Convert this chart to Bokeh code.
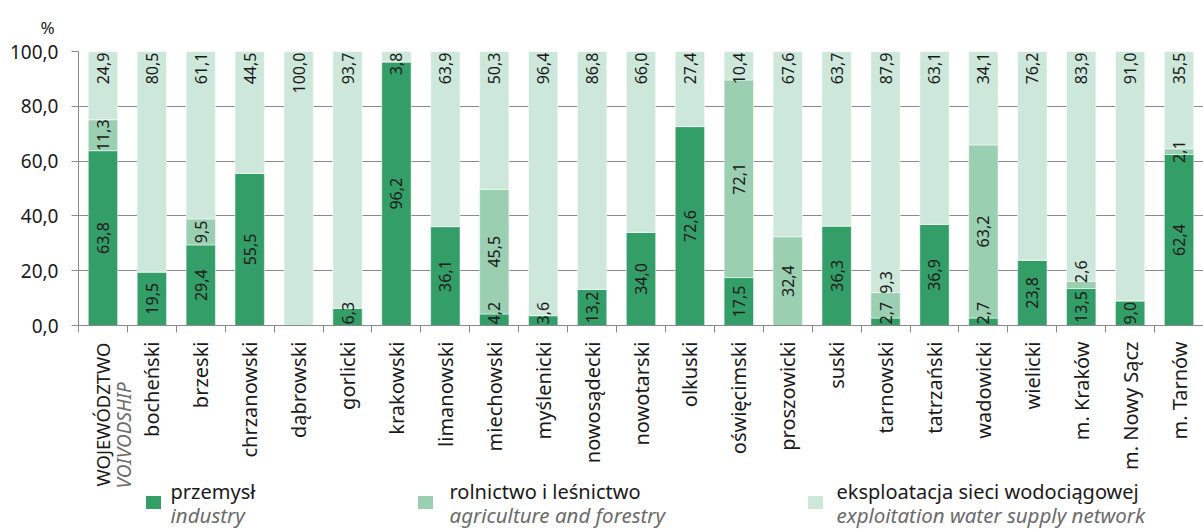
import math
from bokeh.plotting import figure
from bokeh.models import Range1d, FixedTicker
from bokeh.layouts import column
from bokeh.embed import file_html
from bokeh.resources import INLINE
from bokeh.core.properties import value

categories = ["WOJEWÓDZTWO", "bocheński", "brzeski", "chrzanowski", "dąbrowski", "gorlicki",
              "krakowski", "limanowski", "miechowski", "myślenicki", "nowosądecki", "nowotarski",
              "olkuski", "oświęcimski", "proszowicki", "suski", "tarnowski", "tatrzański",
              "wadowicki", "wielicki", "m. Kraków", "m. Nowy Sącz", "m. Tarnów"]
industry = [63.8, 19.5, 29.4, 55.5, 0, 6.3, 96.2, 36.1, 4.2, 3.6, 13.2, 34.0, 72.6, 17.5, 0,
            36.3, 2.7, 36.9, 2.7, 23.8, 13.5, 9.0, 62.4]
agriculture = [11.3, 0, 9.5, 0, 0, 0, 0, 0, 45.5, 0, 0, 0, 0, 72.1, 32.4, 0, 9.3, 0, 63.2, 0,
               2.6, 0, 2.1]
water = [24.9, 80.5, 61.1, 44.5, 100.0, 93.7, 3.8, 63.9, 50.3, 96.4, 86.8, 66.0, 27.4, 10.4,
         67.6, 63.7, 87.9, 63.1, 34.1, 76.2, 83.9, 91.0, 35.5]
y_ticks = [0, 20, 40, 60, 80, 100]
subtitle_en = "VOIVODSHIP"
legend_pl = ["przemysł", "rolnictwo i leśnictwo", "eksploatacja sieci wodociągowej"]
legend_en = ["industry", "agriculture and forestry", "exploitation water supply network"]

C_DARK = "#349e68"
C_MID = "#9acfb2"
C_LIGHT = "#cde8db"
C_TEXT = "#1a1a1a"
C_GREY_TEXT = "#6b6b6b"
C_AXIS = "#8a8a8a"
FONT = "Noto Sans"

W_TOTAL, H_TOTAL = 1203, 529
FRAME_LEFT, FRAME_TOP, FRAME_H = 78, 50, 275
FRAME_W = W_TOTAL - FRAME_LEFT
A_BOTTOM = 14
A_H = FRAME_TOP + FRAME_H + A_BOTTOM
B_H = H_TOTAL - A_H
n = len(categories)
UX = FRAME_W / n
UY = FRAME_H / 100.0


def sx(px):
    return (px - FRAME_LEFT) / UX


def by(py):
    # global pixel row -> y in the lower panel (0 at its top)
    return py - A_H


def fmt(v):
    return f"{v:.1f}".replace(".", ",")


x_range = Range1d(0, n)
p = figure(width=W_TOTAL, height=A_H, x_range=x_range, y_range=Range1d(0, 100),
           output_backend="svg", toolbar_location=None, title="%",
           min_border_left=FRAME_LEFT, min_border_right=0, min_border_top=FRAME_TOP,
           min_border_bottom=A_BOTTOM)
p.outline_line_color = None
p.title.align = "left"
p.title.offset = -38
p.title.text_font = FONT
p.title.text_font_size = "17px"
p.title.text_font_style = "normal"
p.title.text_color = C_TEXT
p.title.standoff = 26

xs = [i + 0.5 for i in range(n)]
t1 = [industry[i] for i in range(n)]
t2 = [industry[i] + agriculture[i] for i in range(n)]
t3 = [t2[i] + water[i] for i in range(n)]

W = 0.6
p.vbar(x=xs, bottom=0, top=t1, width=W, fill_color=C_DARK, line_color="white", line_alpha=0.5, line_width=1)
p.vbar(x=xs, bottom=t1, top=t2, width=W, fill_color=C_MID, line_color="white", line_alpha=0.5, line_width=1)
p.vbar(x=xs, bottom=t2, top=t3, width=W, fill_color=C_LIGHT, line_color="white", line_alpha=0.5, line_width=1)

LBL_SIZE = 16


def half_len_units(s):
    digits = sum(c.isdigit() for c in s)
    px = LBL_SIZE * (0.572 * digits + 0.27)
    return px / 2 / UY


cx, cy, ct = [], [], []
rx, ry, rt = [], [], []
for i in range(n):
    top_lbl = -10
    if industry[i] > 0:
        s = fmt(industry[i])
        h = half_len_units(s)
        y = max(industry[i] / 2, h + 0.4)
        cx.append(xs[i]); cy.append(y); ct.append(s)
        top_lbl = y + h
    if agriculture[i] > 0:
        s = fmt(agriculture[i])
        h = half_len_units(s)
        y = max(industry[i] + agriculture[i] / 2, top_lbl + 3.0 + h)
        cx.append(xs[i]); cy.append(y); ct.append(s)
    if water[i] > 0:
        s = fmt(water[i])
        rx.append(xs[i]); ry.append(100 - 0.4); rt.append(s)

p.text(x=cx, y=cy, text=ct, angle=math.pi / 2, text_align="center", text_baseline="middle",
       text_font=value(FONT), text_font_size=f"{LBL_SIZE}px", text_color=C_TEXT)
p.text(x=rx, y=ry, text=rt, angle=math.pi / 2, text_align="right", text_baseline="middle",
       text_font=value(FONT), text_font_size=f"{LBL_SIZE}px", text_color=C_TEXT)

p.xgrid.visible = False
p.ygrid.ticker = FixedTicker(ticks=y_ticks)
p.ygrid.grid_line_color = C_AXIS
p.ygrid.grid_line_width = 1

p.yaxis.ticker = FixedTicker(ticks=y_ticks)
p.yaxis.major_label_overrides = {t: fmt(t) for t in y_ticks}
p.yaxis.major_label_text_font = FONT
p.yaxis.major_label_text_font_size = "19px"
p.yaxis.major_label_text_color = C_TEXT
p.yaxis.axis_line_color = C_AXIS
p.yaxis.major_tick_line_color = C_AXIS
p.yaxis.major_tick_out = 7
p.yaxis.major_tick_in = 0
p.yaxis.minor_tick_line_color = None
p.yaxis.major_label_standoff = 13

# x axis: line and boundary ticks here; category names drawn in the panel below
p.xaxis.ticker = FixedTicker(ticks=xs, minor_ticks=list(range(n + 1)))
p.xaxis.major_label_overrides = {x: "" for x in xs}
p.xaxis.major_label_text_font_size = "1px"
p.xaxis.major_label_standoff = 0
p.xaxis.axis_line_color = C_AXIS
p.xaxis.major_tick_line_color = None
p.xaxis.major_tick_out = 0
p.xaxis.major_tick_in = 0
p.xaxis.minor_tick_line_color = C_AXIS
p.xaxis.minor_tick_out = 7
p.xaxis.minor_tick_in = 0

# lower panel: category names + legend
q = figure(width=W_TOTAL, height=B_H, x_range=x_range, y_range=Range1d(B_H, 0),
           output_backend="svg", toolbar_location=None, x_axis_location=None,
           y_axis_location=None, min_border_left=FRAME_LEFT, min_border_right=0,
           min_border_top=0, min_border_bottom=0)
q.outline_line_color = None
q.grid.visible = False

q.text(x=xs[:1], y=[by(342)], text=categories[:1], angle=math.pi / 2, text_align="right",
       text_baseline="middle", text_font=value(FONT), text_font_size="18.5px", text_color=C_TEXT)
q.text(x=xs[1:], y=[by(341)] * (n - 1), text=categories[1:], angle=math.pi / 2,
       text_align="right", text_baseline="middle", text_font=value(FONT),
       text_font_size="20px", text_color=C_TEXT)
q.text(x=[xs[0] + 21 / UX], y=[by(488)], text=[subtitle_en], angle=math.pi / 2,
       text_align="left", text_baseline="middle", text_font=value(FONT), text_font_size="19px",
       text_font_style="italic", text_color=C_GREY_TEXT)

sw_x = [153, 425, 815]
tx_x = [170, 449, 836]
cols = [C_DARK, C_MID, C_LIGHT]
q.rect(x=[sx(v) for v in sw_x], y=[by(502)] * 3, width=15, height=13, width_units="screen",
       height_units="screen", fill_color=cols, line_color=None)
q.text(x=[sx(v) for v in tx_x], y=[by(491)] * 3, text=legend_pl, text_align="left",
       text_baseline="middle", text_font=value(FONT), text_font_size="20px", text_color=C_TEXT)
q.text(x=[sx(v) for v in tx_x], y=[by(514)] * 3, text=legend_en, text_align="left",
       text_baseline="middle", text_font=value(FONT), text_font_size="20.5px",
       text_font_style="italic", text_color=C_GREY_TEXT)

layout = column(p, q, spacing=0)
open("out.html", "w").write(file_html(layout, INLINE))
